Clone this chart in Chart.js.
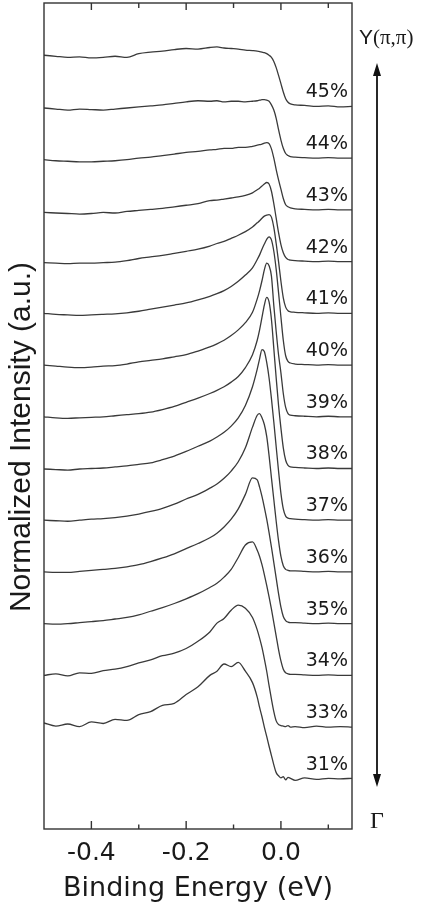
<!DOCTYPE html>
<html>
<head>
<meta charset="utf-8">
<script src="https://cdn.jsdelivr.net/npm/chart.js@4.4.1/dist/chart.umd.min.js"></script>
<style>
  html, body { margin: 0; padding: 0; background: #fff; }
  #wrap { width: 423px; height: 905px; }
</style>
</head>
<body>
<div id="wrap"><canvas id="edc"></canvas></div>
<script>
// Binding energy grid (eV), shared by every curve
const energies = [-0.500, -0.475, -0.450, -0.425, -0.400, -0.375, -0.350, -0.325,
    -0.300, -0.275, -0.250, -0.225, -0.200, -0.175,
    -0.150, -0.135, -0.120, -0.105, -0.090, -0.075, -0.060,
    -0.050, -0.045, -0.040, -0.035, -0.030, -0.025,
    -0.020, -0.015, -0.010, -0.005, 0.000, 0.005, 0.010, 0.015, 0.020,
    0.030, 0.050, 0.075, 0.100, 0.125, 0.150];

// Curve labels, top to bottom
const curveLabels = ['45%', '44%', '43%', '42%', '41%', '40%', '39%', '38%', '37%', '36%', '35%', '34%', '33%', '31%'];

// Normalized intensity of each curve (above its own baseline)
const edc45 = [0.99, 0.97, 0.95, 0.96, 0.94, 0.95, 0.97, 0.95, 1.02, 1.05, 1.07, 1.10, 1.12, 1.11,
    1.14, 1.15, 1.13, 1.12, 1.11, 1.09, 1.08, 1.07, 1.06, 1.05, 1.04, 1.02, 0.99,
    0.95, 0.87, 0.75, 0.60, 0.44, 0.28, 0.15, 0.08, 0.05, 0.03, 0.02, 0.00, 0.01, -0.01, 0.00];
const edc44 = [0.97, 0.95, 0.93, 0.95, 0.94, 0.93, 0.95, 0.97, 0.99, 1.01, 1.03, 1.06, 1.09, 1.11,
    1.10, 1.11, 1.09, 1.10, 1.10, 1.09, 1.10, 1.11, 1.12, 1.13, 1.13, 1.12, 1.10,
    1.03, 0.93, 0.77, 0.55, 0.35, 0.19, 0.09, 0.05, 0.03, 0.02, 0.01, 0.00, 0.01, 0.00, 0.00];
const edc43 = [0.97, 0.95, 0.94, 0.93, 0.93, 0.94, 0.95, 0.97, 1.00, 1.02, 1.05, 1.08, 1.11, 1.13,
    1.16, 1.17, 1.19, 1.19, 1.21, 1.21, 1.23, 1.25, 1.26, 1.27, 1.29, 1.30, 1.28,
    1.18, 1.00, 0.78, 0.58, 0.40, 0.22, 0.10, 0.06, 0.04, 0.02, 0.01, 0.00, 0.01, 0.00, 0.00];
const edc42 = [0.95, 0.94, 0.93, 0.92, 0.93, 0.95, 0.94, 0.97, 0.99, 1.01, 1.03, 1.06, 1.09, 1.12,
    1.18, 1.19, 1.21, 1.23, 1.25, 1.28, 1.33, 1.39, 1.42, 1.46, 1.50, 1.53, 1.50,
    1.36, 1.12, 0.84, 0.56, 0.33, 0.17, 0.08, 0.04, 0.03, 0.02, 0.01, 0.00, 0.01, 0.00, 0.00];
const edc41 = [0.98, 0.97, 0.96, 0.97, 0.97, 0.98, 0.99, 1.02, 1.06, 1.09, 1.12, 1.16, 1.20, 1.24,
    1.30, 1.35, 1.39, 1.45, 1.51, 1.58, 1.67, 1.75, 1.79, 1.84, 1.88, 1.90, 1.91,
    1.86, 1.66, 1.35, 1.00, 0.62, 0.30, 0.12, 0.05, 0.03, 0.02, 0.01, 0.00, 0.01, 0.00, 0.00];
const edc40 = [1.00, 0.98, 0.97, 0.96, 0.97, 0.98, 0.99, 1.01, 1.04, 1.08, 1.12, 1.16, 1.20, 1.26,
    1.33, 1.38, 1.44, 1.52, 1.62, 1.74, 1.88, 2.04, 2.13, 2.24, 2.34, 2.43, 2.48,
    2.42, 2.20, 1.85, 1.40, 0.93, 0.48, 0.18, 0.07, 0.04, 0.02, 0.01, 0.00, 0.01, 0.00, 0.00];
const edc39 = [1.00, 0.98, 0.96, 0.95, 0.96, 0.98, 0.99, 1.02, 1.06, 1.09, 1.12, 1.16, 1.20, 1.27,
    1.35, 1.41, 1.48, 1.57, 1.68, 1.82, 2.02, 2.28, 2.44, 2.63, 2.84, 2.97, 2.92,
    2.72, 2.15, 1.65, 1.20, 0.85, 0.45, 0.18, 0.06, 0.03, 0.02, 0.01, 0.00, 0.01, 0.00, 0.00];
const edc38 = [1.00, 0.98, 0.97, 0.98, 0.99, 1.00, 1.02, 1.04, 1.06, 1.09, 1.14, 1.20, 1.28, 1.36,
    1.45, 1.51, 1.58, 1.67, 1.78, 1.95, 2.20, 2.48, 2.68, 2.92, 3.16, 3.31, 3.22,
    2.88, 2.32, 1.75, 1.22, 0.78, 0.40, 0.16, 0.06, 0.03, 0.02, 0.01, 0.00, 0.01, 0.00, 0.00];
const edc37 = [0.99, 0.98, 0.97, 0.99, 1.00, 1.01, 1.03, 1.05, 1.08, 1.11, 1.17, 1.24, 1.33, 1.43,
    1.53, 1.61, 1.70, 1.82, 1.98, 2.22, 2.58, 2.92, 3.12, 3.30, 3.26, 3.05, 2.75,
    2.35, 1.90, 1.42, 0.95, 0.52, 0.22, 0.08, 0.04, 0.03, 0.02, 0.01, 0.00, 0.01, 0.00, 0.00];
const edc36 = [1.00, 0.99, 0.98, 1.00, 1.02, 1.03, 1.05, 1.08, 1.12, 1.17, 1.23, 1.31, 1.41, 1.50,
    1.62, 1.70, 1.81, 1.95, 2.13, 2.40, 2.80, 3.03, 3.06, 2.98, 2.85, 2.62, 2.25,
    1.82, 1.40, 0.98, 0.60, 0.30, 0.12, 0.05, 0.03, 0.02, 0.02, 0.01, 0.00, 0.01, 0.00, 0.00];
const edc35 = [1.00, 0.99, 0.99, 1.01, 1.03, 1.05, 1.07, 1.10, 1.14, 1.20, 1.27, 1.35, 1.45, 1.55,
    1.66, 1.75, 1.87, 2.02, 2.22, 2.50, 2.82, 2.78, 2.64, 2.46, 2.25, 2.02, 1.76,
    1.48, 1.18, 0.88, 0.58, 0.32, 0.14, 0.06, 0.03, 0.02, 0.02, 0.01, 0.00, 0.01, 0.00, 0.00];
const edc34 = [1.00, 0.99, 1.00, 1.02, 1.04, 1.06, 1.09, 1.12, 1.17, 1.24, 1.31, 1.39, 1.48, 1.58,
    1.70, 1.78, 1.90, 2.05, 2.28, 2.52, 2.58, 2.42, 2.30, 2.14, 1.95, 1.74, 1.52,
    1.28, 1.02, 0.76, 0.50, 0.28, 0.12, 0.05, 0.03, 0.02, 0.02, 0.01, 0.00, 0.01, 0.00, 0.00];
const edc33 = [1.00, 1.03, 0.99, 1.05, 1.04, 1.09, 1.12, 1.17, 1.24, 1.30, 1.38, 1.43, 1.52, 1.66,
    1.84, 2.01, 2.10, 2.26, 2.36, 2.30, 2.12, 1.88, 1.72, 1.54, 1.32, 1.08, 0.80,
    0.54, 0.30, 0.12, 0.05, 0.03, 0.02, 0.01, 0.03, 0.00, 0.01, -0.01, 0.02, 0.00, 0.01, 0.00];
const edc31 = [1.08, 1.02, 1.06, 1.01, 1.10, 1.07, 1.15, 1.13, 1.24, 1.30, 1.42, 1.46, 1.63, 1.78,
    2.00, 2.08, 2.22, 2.17, 2.25, 2.08, 1.86, 1.58, 1.38, 1.20, 1.00, 0.82, 0.63,
    0.45, 0.27, 0.12, 0.06, 0.02, 0.04, -0.02, 0.03, 0.01, -0.03, 0.02, -0.01, 0.01, 0.00, 0.01];

const curves = [edc45, edc44, edc43, edc42, edc41, edc40, edc39, edc38, edc37, edc36, edc35, edc34, edc33, edc31];

const majorTicks = [-0.4, -0.2, 0.0];
const minorTicks = [-0.3, -0.1, 0.1];

const LINE_COLOR = '#3a3a3a';
const TEXT_COLOR = '#1a1a1a';

// each curve sits one unit above the next one down
const datasets = curves.map((vals, i) => {
    const offset = curves.length - 1 - i;
    return {
        label: curveLabels[i],
        offset: offset,
        data: energies.map((e, j) => ({ x: e, y: vals[j] + offset })),
        borderColor: LINE_COLOR,
        borderWidth: 1.3,
        pointRadius: 0,
        cubicInterpolationMode: 'monotone',
        fill: false
    };
});

// box, inward ticks, curve labels and the side annotations
const framePlugin = {
    id: 'frame',
    afterDraw(chart) {
        const { ctx, chartArea: a, scales: { x, y } } = chart;
        ctx.save();
        ctx.strokeStyle = '#333';
        ctx.lineWidth = 1.4;
        ctx.strokeRect(a.left, a.top, a.right - a.left, a.bottom - a.top);

        ctx.beginPath();
        majorTicks.forEach(v => {
            const px = x.getPixelForValue(v);
            ctx.moveTo(px, a.top); ctx.lineTo(px, a.top + 7);
            ctx.moveTo(px, a.bottom); ctx.lineTo(px, a.bottom - 8);
        });
        minorTicks.forEach(v => {
            const px = x.getPixelForValue(v);
            ctx.moveTo(px, a.top); ctx.lineTo(px, a.top + 5);
            ctx.moveTo(px, a.bottom); ctx.lineTo(px, a.bottom - 4.5);
        });
        ctx.stroke();

        ctx.fillStyle = TEXT_COLOR;
        ctx.font = '19px "DejaVu Sans"';
        ctx.textAlign = 'right';
        ctx.textBaseline = 'alphabetic';
        chart.data.datasets.forEach(ds => {
            ctx.fillText(ds.label, a.right - 4, y.getPixelForValue(ds.offset) - 9);
        });

        // y axis title
        ctx.save();
        ctx.translate(30, 437);
        ctx.rotate(-Math.PI / 2);
        ctx.font = '30px "Liberation Sans"';
        ctx.textAlign = 'center';
        ctx.fillText('Normalized Intensity (a.u.)', 0, 0);
        ctx.restore();

        // momentum direction arrow
        ctx.strokeStyle = '#111';
        ctx.fillStyle = '#111';
        ctx.lineWidth = 1.8;
        ctx.beginPath();
        ctx.moveTo(377, 74);
        ctx.lineTo(377, 776);
        ctx.stroke();
        ctx.beginPath();
        ctx.moveTo(377, 63); ctx.lineTo(373, 76); ctx.lineTo(381, 76); ctx.closePath();
        ctx.moveTo(377, 787); ctx.lineTo(373, 774); ctx.lineTo(381, 774); ctx.closePath();
        ctx.fill();

        ctx.fillStyle = TEXT_COLOR;
        ctx.textAlign = 'left';
        ctx.font = '21px "Liberation Sans"';
        ctx.fillText('Y', 359, 44);
        ctx.font = '21px "Liberation Serif"';
        ctx.fillText('(\u03C0,\u03C0)', 373, 44);
        ctx.font = '24px "Liberation Serif"';
        ctx.fillText('\u0393', 370, 828);
        ctx.restore();
    }
};

new Chart(document.getElementById('edc'), {
    type: 'line',
    data: { datasets: datasets },
    options: {
        responsive: true,
        maintainAspectRatio: false,
        animation: false,
        layout: { padding: { left: 44, right: 71, top: 3, bottom: 0 } },
        plugins: {
            legend: { display: false },
            tooltip: { enabled: false }
        },
        scales: {
            x: {
                type: 'linear',
                min: -0.5,
                max: 0.15,
                afterBuildTicks: scale => {
                    scale.ticks = majorTicks.map(v => ({ value: v }));
                },
                afterFit: scale => {
                    scale.height = 76;
                },
                ticks: {
                    color: TEXT_COLOR,
                    padding: 12,
                    maxRotation: 0,
                    autoSkip: false,
                    font: { family: 'DejaVu Sans', size: 25, lineHeight: 1 },
                    callback: v => Number(v).toFixed(1)
                },
                grid: { display: false, drawTicks: false },
                border: { display: false },
                title: {
                    display: true,
                    text: 'Binding Energy (eV)',
                    color: TEXT_COLOR,
                    font: { family: 'DejaVu Sans', size: 27, lineHeight: 1 },
                    padding: { top: 9, bottom: 3 }
                }
            },
            y: {
                type: 'linear',
                display: false,
                min: -0.97,
                max: 15.0
            }
        }
    },
    plugins: [framePlugin]
});
</script>
</body>
</html>
